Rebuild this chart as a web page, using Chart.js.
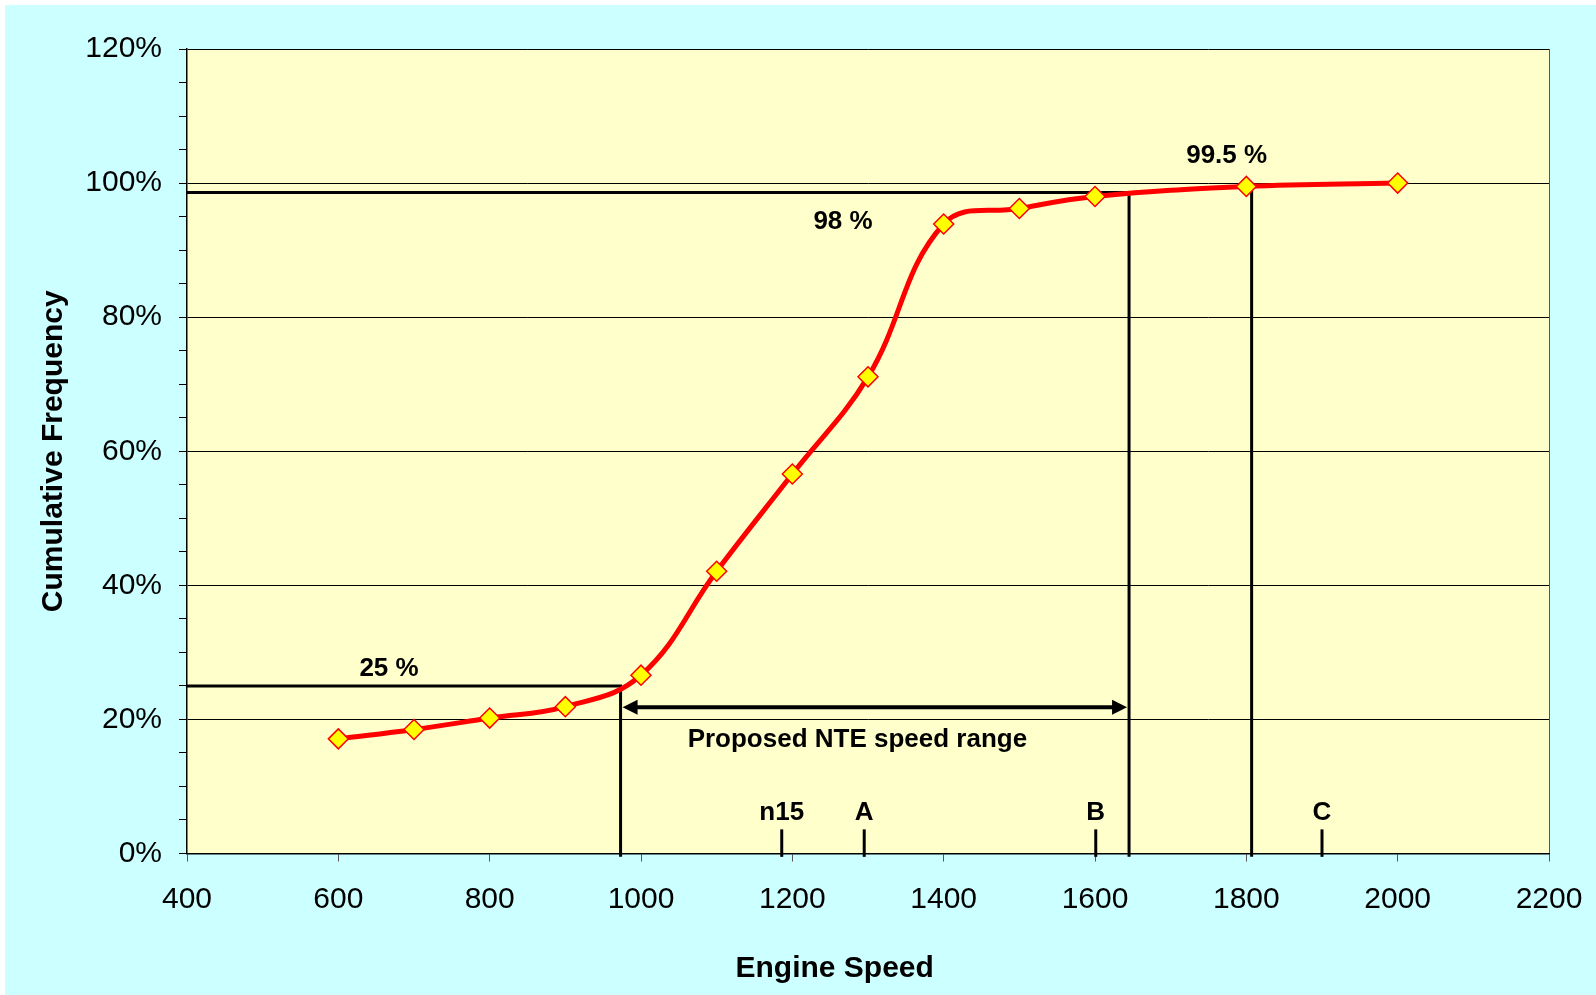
<!DOCTYPE html>
<html>
<head>
<meta charset="utf-8">
<script src="https://cdn.jsdelivr.net/npm/chart.js@4.4.0/dist/chart.umd.min.js"></script>
<style>
html, body { margin: 0; padding: 0; background: #fff; }
#wrap { position: absolute; left: 5px; top: 5px; width: 1591px; height: 990px; background: #CCFFFF; }
</style>
</head>
<body>
<div id="wrap"><canvas id="chart"></canvas></div>
<script>
// cumulative frequency of engine speed
const speeds = [600, 700, 800, 900, 1000, 1100, 1200, 1300, 1400, 1500, 1600, 1800, 2000];
const cumFreq = [17.1, 18.5, 20.2, 21.9, 26.6, 42.1, 56.6, 71.1, 93.9, 96.2, 98.0, 99.5, 100.0];

// reference lines (speed, %)
const lowLine = [{x: 400, y: 25}, {x: 973, y: 25}, {x: 973, y: -0.5}];
const highLine = [{x: 400, y: 98.6}, {x: 1645, y: 98.6}, {x: 1645, y: -0.5}];
const topLine = [{x: 1807, y: 99.5}, {x: 1807, y: -0.5}];

// NTE range arrow
const nteRange = [973, 1645];
const nteLevel = 21.8;

// test mode speeds on the axis
const modeNames = ['n15', 'A', 'B', 'C'];
const modeSpeeds = [1186, 1295, 1601, 1900];
const modeTickTop = 3.6;
const modeLabelLevel = 6.1;

// text notes: [text, speed, %]
const notes = [
    ['25 %', 667, 27.5],
    ['98 %', 1267, 94.2],
    ['99.5 %', 1774, 104.0],
    ['Proposed NTE speed range', 1286, 17.0]
];

const FONT = '"Liberation Sans", Arial, sans-serif';

const plotBg = {
    id: 'plotBg',
    beforeDraw(chart) {
        const {ctx, chartArea: a} = chart;
        ctx.save();
        ctx.fillStyle = '#FFFFCC';
        ctx.fillRect(a.left, a.top, a.right - a.left, a.bottom - a.top);
        ctx.restore();
    }
};

const notesPlugin = {
    id: 'notes',
    afterDatasetsDraw(chart) {
        const {ctx} = chart;
        const xs = chart.scales.x, ys = chart.scales.y;
        ctx.save();
        ctx.fillStyle = '#000';
        ctx.strokeStyle = '#000';

        // arrow
        const x1 = xs.getPixelForValue(nteRange[0]) + 2;
        const x2 = xs.getPixelForValue(nteRange[1]) - 2;
        const yA = ys.getPixelForValue(nteLevel);
        ctx.lineWidth = 4;
        ctx.beginPath();
        ctx.moveTo(x1 + 10, yA);
        ctx.lineTo(x2 - 10, yA);
        ctx.stroke();
        ctx.beginPath();
        ctx.moveTo(x1, yA);
        ctx.lineTo(x1 + 15, yA - 7.5);
        ctx.lineTo(x1 + 15, yA + 7.5);
        ctx.closePath();
        ctx.fill();
        ctx.beginPath();
        ctx.moveTo(x2, yA);
        ctx.lineTo(x2 - 15, yA - 7.5);
        ctx.lineTo(x2 - 15, yA + 7.5);
        ctx.closePath();
        ctx.fill();

        // mode ticks and names
        ctx.lineWidth = 3;
        ctx.font = 'bold 26px ' + FONT;
        ctx.textAlign = 'center';
        ctx.textBaseline = 'middle';
        modeSpeeds.forEach((s, i) => {
            const px = xs.getPixelForValue(s);
            ctx.beginPath();
            ctx.moveTo(px, ys.getPixelForValue(-0.5));
            ctx.lineTo(px, ys.getPixelForValue(modeTickTop));
            ctx.stroke();
            ctx.fillText(modeNames[i], px, ys.getPixelForValue(modeLabelLevel));
        });

        notes.forEach(n => {
            ctx.fillText(n[0], xs.getPixelForValue(n[1]), ys.getPixelForValue(n[2]));
        });
        ctx.restore();
    }
};

function refLine(pts) {
    return {
        data: pts,
        borderColor: '#000',
        borderWidth: 3,
        pointRadius: 0,
        tension: 0,
        fill: false,
        clip: false,
        order: 2
    };
}

new Chart(document.getElementById('chart'), {
    type: 'line',
    data: {
        datasets: [
            {
                data: speeds.map((s, i) => ({x: s, y: cumFreq[i]})),
                borderColor: '#FF0000',
                borderWidth: 5,
                tension: 0.4,
                pointStyle: 'rectRot',
                pointRadius: 10,
                pointBackgroundColor: '#FFFF00',
                pointBorderColor: '#FF0000',
                pointBorderWidth: 1.5,
                fill: false,
                order: 1
            },
            refLine(lowLine),
            refLine(highLine),
            refLine(topLine)
        ]
    },
    options: {
        responsive: true,
        maintainAspectRatio: false,
        animation: false,
        layout: { padding: { left: 0, top: 44, right: 47, bottom: 0 } },
        plugins: { legend: { display: false }, tooltip: { enabled: false } },
        scales: {
            x: {
                type: 'linear',
                min: 400,
                max: 2200,
                afterFit: s => { s.height = 141.5; s.paddingLeft = 0; s.paddingRight = 0; },
                ticks: {
                    stepSize: 200,
                    color: '#000',
                    padding: 20,
                    font: { family: FONT, size: 30 },
                    callback: v => String(v)
                },
                grid: {
                    color: c => (c.tick && c.tick.value === 2200) ? '#555' : 'rgba(0,0,0,0)',
                    tickColor: '#555',
                    tickLength: 8
                },
                border: { color: '#000', width: 1.5 },
                title: {
                    display: true,
                    text: 'Engine Speed\u00a0\u00a0\u00a0\u00a0\u00a0\u00a0\u00a0\u00a0',
                    color: '#000',
                    font: { family: FONT, size: 30, weight: 'bold' },
                    padding: { top: 8, bottom: 8 }
                }
            },
            y: {
                min: 0,
                max: 120,
                afterFit: s => { s.width = 182; },
                ticks: {
                    stepSize: 5,
                    autoSkip: false,
                    color: '#000',
                    padding: 17,
                    font: { family: FONT, size: 30 },
                    callback: v => (v % 20 === 0 ? v + '%' : '')
                },
                grid: {
                    color: c => (c.tick && c.tick.value % 20 === 0) ? '#000' : 'rgba(0,0,0,0)',
                    tickColor: '#000',
                    tickLength: 8,
                    lineWidth: 1
                },
                border: { color: '#000', width: 1.5 },
                title: {
                    display: true,
                    text: 'Cumulative Frequency',
                    color: '#000',
                    font: { family: FONT, size: 30, weight: 'bold' },
                    padding: { top: 31, bottom: 0 }
                }
            }
        }
    },
    plugins: [plotBg, notesPlugin]
});
</script>
</body>
</html>
